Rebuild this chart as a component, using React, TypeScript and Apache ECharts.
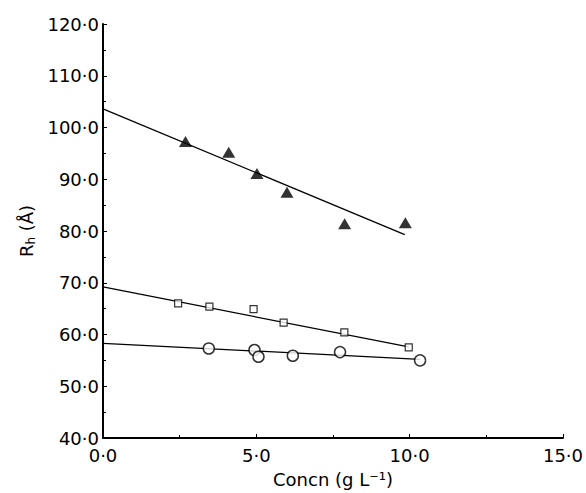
import React, { useEffect, useRef } from "react";
import * as echarts from "echarts";

// Measured points (Concn g/L, Rh Å)
const triangles: number[][] = [
  [2.69, 97.3], [4.1, 95.2], [5.02, 91.1], [6.0, 87.5], [7.88, 81.4], [9.86, 81.6],
];
const squares: number[][] = [
  [2.45, 66.0], [3.47, 65.4], [4.91, 64.9], [5.89, 62.3], [7.87, 60.4], [9.97, 57.5],
];
const circles: number[][] = [
  [3.45, 57.3], [4.94, 57.0], [5.07, 55.7], [6.19, 55.9], [7.73, 56.6], [10.34, 55.0],
];
// Fitted lines (end points as drawn)
const fitTriangles: number[][] = [[0, 103.6], [9.84, 79.3]];
const fitSquares: number[][] = [[0, 69.2], [9.97, 57.6]];
const fitCircles: number[][] = [[0, 58.3], [10.34, 55.2]];

const xTicks = { min: 0, max: 15, interval: 5 };
const yTicks = { min: 40, max: 120, interval: 10 };

const FONT = "DejaVu Sans";
const fmt = (v: number) => v.toFixed(1).replace(".", "·");

export default function App() {
  const ref = useRef<HTMLDivElement>(null);
  useEffect(() => {
    if (!ref.current) return;
    const chart = echarts.init(ref.current, null, { renderer: "svg" });
    const axisCommon = {
      axisLine: { show: true, onZero: false, lineStyle: { color: "#000", width: 2 } },
      axisTick: { show: true, inside: true, length: 4, lineStyle: { color: "#000", width: 1 } },
      minorTick: { show: true, splitNumber: 2, length: 3, lineStyle: { color: "#000", width: 1 } },
      splitLine: { show: false },
      minorSplitLine: { show: false },
    };
    const lineSeries = (data: number[][]) => ({
      type: "line",
      data,
      showSymbol: false,
      symbol: "none",
      lineStyle: { color: "#000", width: 1.3 },
      z: 1,
      silent: true,
    });
    chart.setOption({
      animation: false,
      backgroundColor: "#fff",
      grid: { left: 103, right: 21, top: 24, bottom: 54 },
      xAxis: {
        type: "value",
        ...xTicks,
        ...axisCommon,
        axisLabel: {
          color: "#000",
          fontFamily: FONT,
          fontSize: 18,
          lineHeight: 18,
          margin: 8,
          formatter: fmt,
        },
        name: "Concn (g L⁻¹)",
        nameLocation: "middle",
        nameGap: 32,
        nameTextStyle: { color: "#000", fontFamily: FONT, fontSize: 18 },
      },
      yAxis: {
        type: "value",
        ...yTicks,
        ...axisCommon,
        axisLabel: {
          color: "#000",
          fontFamily: FONT,
          fontSize: 18,
          lineHeight: 15,
          margin: 4,
          formatter: fmt,
        },
        name: "{r|R}{s|h}{r| (Å)}",
        nameLocation: "middle",
        nameGap: 66,
        nameTextStyle: {
          color: "#000",
          fontFamily: FONT,
          fontSize: 18,
          rich: {
            r: { fontFamily: FONT, fontSize: 18, color: "#000" },
            s: { fontFamily: FONT, fontSize: 12, color: "#000", verticalAlign: "bottom", padding: [8, 0, 0, 0] },
          },
        },
      },
      series: [
        lineSeries(fitTriangles),
        lineSeries(fitSquares),
        lineSeries(fitCircles),
        {
          type: "scatter",
          data: triangles,
          symbol: "triangle",
          symbolSize: [13, 11],
          itemStyle: { color: "#000" },
          z: 3,
        },
        {
          type: "scatter",
          data: squares,
          symbol: "rect",
          symbolSize: 7,
          itemStyle: { color: "#fff", borderColor: "#000", borderWidth: 1.2 },
          z: 3,
        },
        {
          type: "scatter",
          data: circles,
          symbol: "circle",
          symbolSize: 11,
          itemStyle: { color: "#fff", borderColor: "#000", borderWidth: 1.5 },
          z: 3,
        },
      ],
    });
    return () => chart.dispose();
  }, []);
  return (
    <div
      ref={ref}
      style={{ position: "fixed", left: 0, top: 0, width: 586, height: 493, background: "#fff" }}
    />
  );
}
